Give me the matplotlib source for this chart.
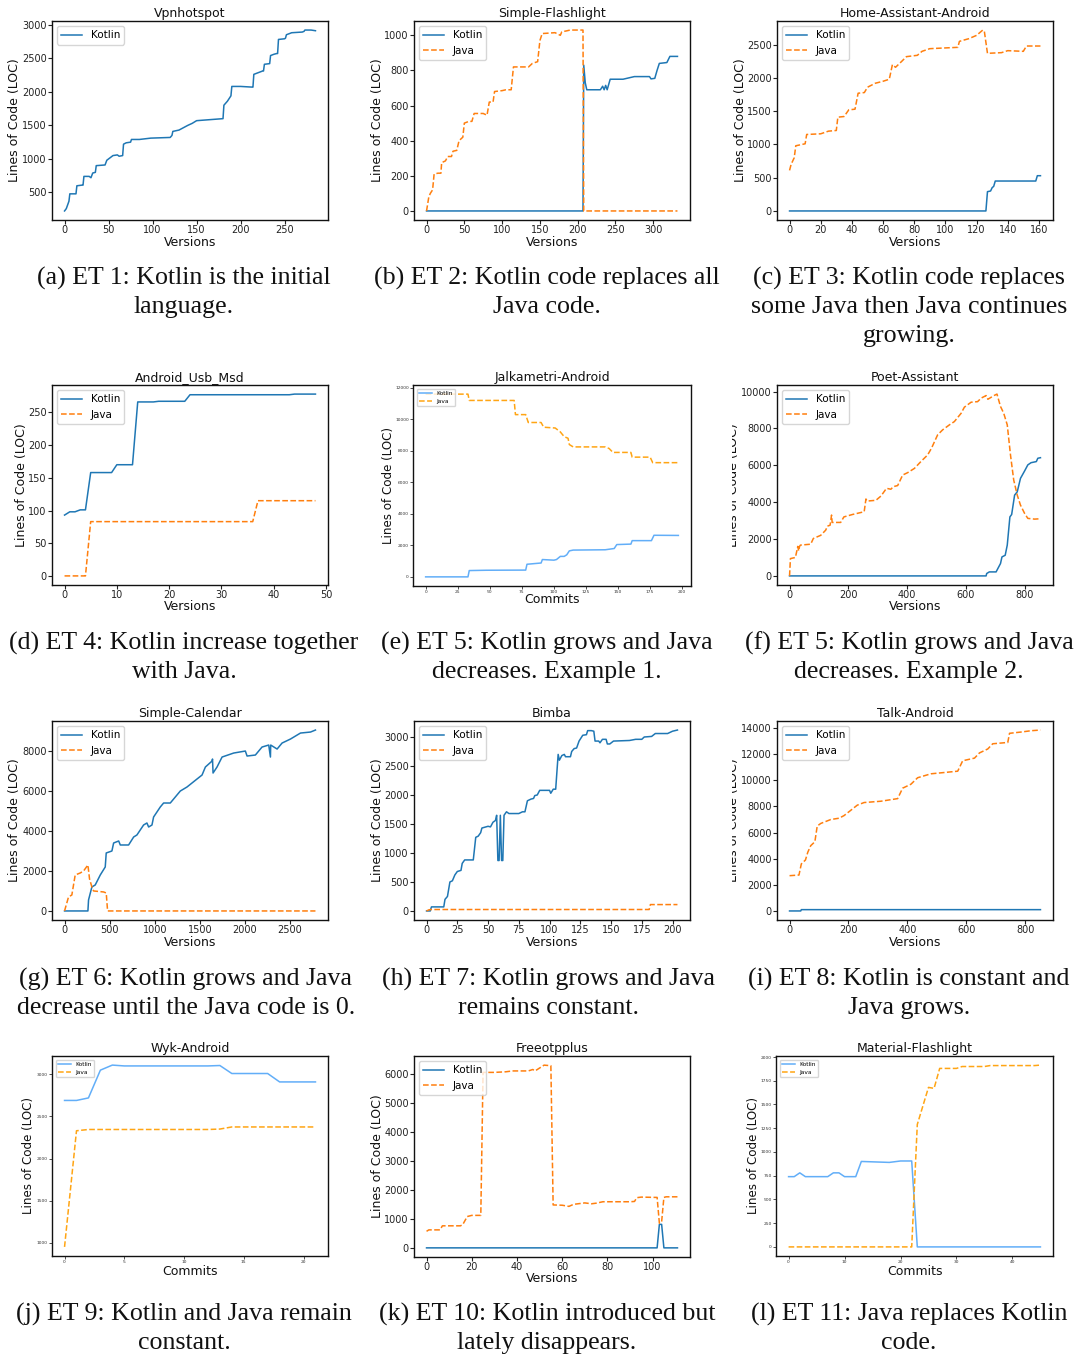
import matplotlib
matplotlib.use("Agg")
import matplotlib.pyplot as plt
from matplotlib.patches import Rectangle

# ---------------- data ----------------
# (a) Vpnhotspot
vpn_versions = [0, 2, 5, 6, 13, 14, 20, 21, 22, 28, 30, 32, 35, 36, 46, 48, 52, 55, 60, 62,
                66, 67, 70, 75, 76, 85, 98, 120, 122, 123, 130, 140, 145, 150, 160, 170, 180, 181, 185, 188,
                189, 190, 200, 213, 214, 215, 225, 226, 227, 233, 234, 238, 241, 242, 243, 250, 251, 252, 258, 270,
                272, 273, 280, 285]
vpn_kotlin = [225, 260, 370, 480, 480, 600, 610, 610, 740, 740, 720, 790, 800, 900, 910, 980, 1020, 1050, 1060, 1040,
              1050, 1220, 1240, 1250, 1290, 1290, 1310, 1320, 1350, 1410, 1430, 1500, 1530, 1570, 1580, 1590, 1600, 1800, 1860, 1920,
              1940, 2080, 2080, 2070, 2070, 2260, 2310, 2310, 2410, 2420, 2540, 2560, 2570, 2570, 2780, 2790, 2800, 2850, 2880, 2890,
              2900, 2920, 2920, 2910]

# (b) Simple-Flashlight
flash_kt_v = [0, 207, 208, 210, 212, 230, 233, 235, 237, 239, 243, 260, 275, 295, 297, 302, 305, 308, 318, 322, 332]
flash_kt = [0, 0, 830, 730, 690, 690, 710, 690, 715, 690, 750, 750, 765, 765, 752, 755, 800, 840, 845, 880, 880]
flash_java_v = [0, 3, 5, 8, 10, 15, 19, 20, 25, 28, 33, 35, 40, 43, 48, 50, 56, 60, 63, 75,
                80, 83, 88, 90, 100, 105, 112, 115, 135, 140, 147, 150, 153, 170, 177, 179, 185, 190, 207, 208, 332]
flash_java = [0, 80, 100, 120, 210, 215, 215, 275, 285, 310, 310, 340, 345, 400, 420, 500, 510, 510, 555, 555,
              545, 620, 620, 680, 685, 690, 690, 820, 820, 840, 850, 970, 1010, 1015, 1000, 1020, 1025, 1030, 1030, 0, 0]

# (c) Home-Assistant-Android
ha_java_v = [0, 1, 3, 4, 8, 10, 11, 20, 25, 30, 31, 35, 38, 42, 44, 48, 50, 55, 60, 64,
             66, 68, 72, 75, 82, 85, 90, 108, 109, 115, 120, 124, 125, 127, 136, 140, 150, 152, 161]
ha_java = [610, 700, 800, 980, 1000, 1010, 1150, 1160, 1200, 1210, 1410, 1420, 1520, 1530, 1770, 1780, 1860, 1920, 1950, 1980,
           2200, 2160, 2250, 2320, 2340, 2400, 2440, 2460, 2550, 2590, 2640, 2720, 2700, 2370, 2380, 2410, 2400, 2480, 2480]
ha_kt_v = [0, 126, 127, 129, 130, 131, 132, 158, 159, 161]
ha_kt = [0, 0, 290, 300, 350, 370, 450, 450, 530, 530]

# (d) Android_Usb_Msd
usb_kt_v = [0, 1, 2, 3, 4, 5, 9, 10, 13, 14, 17, 18, 23, 24, 43, 44, 48]
usb_kt = [93, 98, 98, 101, 101, 158, 158, 170, 170, 266, 266, 267, 267, 277, 277, 278, 278]
usb_java_v = [0, 4, 5, 36, 37, 48]
usb_java = [0, 0, 83, 83, 115, 115]

# (e) Jalkametri-Android
jalk_java_c = [0, 33, 34, 69, 70, 78, 80, 90, 92, 101, 105, 108, 111, 112, 115, 140, 143, 146, 160, 161, 175, 177, 197]
jalk_java = [11600, 11600, 11200, 11200, 10300, 10300, 9800, 9800, 9500, 9450, 9200, 8900, 8800, 8400, 8250, 8250,
             8150, 7900, 7900, 7600, 7600, 7250, 7250]
jalk_kt_c = [0, 33, 34, 47, 78, 79, 90, 91, 100, 102, 105, 108, 110, 112, 115, 140, 147, 149, 160, 161, 176, 178, 197]
jalk_kt = [0, 0, 400, 420, 430, 800, 880, 1100, 1060, 1100, 1300, 1300, 1400, 1650, 1700, 1720, 1800, 2050, 2080,
           2300, 2300, 2640, 2630]

# (f) Poet-Assistant
poet_java_v = [0, 3, 20, 28, 31, 34, 37, 72, 81, 106, 123, 129, 138, 143, 145, 151, 174, 185, 214, 254,
               260, 265, 294, 311, 330, 345, 353, 368, 385, 402, 425, 447, 470, 483, 504, 521, 544, 561, 584, 595,
               618, 640, 652, 669, 675, 697, 706, 718, 729, 741, 752, 763, 775, 786, 800, 811, 834, 854]
poet_java = [0, 940, 1000, 1600, 1350, 1600, 1670, 1720, 2030, 2200, 2480, 2700, 2750, 3300, 2900, 2900, 2900, 3200, 3330, 3480,
             4170, 4060, 4100, 4330, 4750, 4700, 4840, 4900, 5470, 5600, 5830, 6200, 6560, 6920, 7650, 7920, 8190, 8370, 8820, 9150,
             9420, 9450, 9640, 9780, 9580, 9790, 9860, 9190, 8820, 8190, 6560, 5200, 4380, 3840, 3390, 3120, 3080, 3100]
poet_kt_v = [0, 669, 671, 680, 703, 709, 718, 723, 734, 741, 750, 756, 766, 775, 786, 800, 811, 822, 840, 845, 854]
poet_kt = [0, 0, 130, 217, 217, 400, 670, 1030, 1120, 1670, 3200, 3330, 4380, 4560, 5290, 5690, 6020, 6140, 6200, 6380, 6410]

# (g) Simple-Calendar
cal_kt_v = [0, 259, 266, 303, 340, 396, 451, 462, 525, 544, 600, 618, 710, 766, 802, 876, 913, 932, 969, 987,
            1061, 1098, 1172, 1209, 1283, 1357, 1468, 1524, 1561, 1635, 1640, 1646, 1690, 1746, 1875, 2004, 2023, 2115, 2189, 2263,
            2282, 2285, 2356, 2411, 2504, 2615, 2726, 2781]
cal_kt = [0, 0, 550, 1200, 1300, 1800, 2200, 2900, 3000, 3400, 3500, 3300, 3300, 3700, 3800, 4300, 4400, 4200, 4300, 4700,
          5200, 5400, 5400, 5600, 6000, 6200, 6600, 6800, 7200, 7500, 7600, 6900, 7200, 7700, 7900, 8000, 7750, 7800, 8200, 8300,
          7700, 8300, 8100, 8400, 8600, 8900, 8950, 9050]
cal_java_v = [0, 44, 81, 118, 174, 211, 259, 277, 303, 322, 433, 462, 477, 2781]
cal_java = [0, 700, 800, 1800, 1900, 2000, 2300, 1600, 1200, 1000, 950, 900, 0, 0]

# (h) Bimba
bimba_kt_v = [0, 3, 4, 14, 15, 17, 19, 21, 23, 25, 28, 29, 31, 38, 40, 42, 44, 45, 50, 52,
              54, 56, 57, 58, 59, 60, 61, 62, 63, 65, 67, 75, 78, 80, 82, 85, 87, 88, 90, 92,
              100, 101, 103, 105, 107, 108, 110, 112, 113, 117, 118, 120, 122, 124, 127, 130, 131, 134, 136, 137,
              140, 141, 143, 146, 147, 149, 152, 165, 170, 175, 177, 183, 186, 196, 200, 204]
bimba_kt = [0, 0, 70, 70, 200, 250, 500, 520, 620, 680, 700, 820, 880, 880, 1270, 1290, 1350, 1430, 1460, 1450,
            1530, 1560, 1650, 870, 870, 1650, 870, 870, 1650, 1710, 1680, 1680, 1710, 1710, 1900, 1930, 1940, 1990, 2000, 2080,
            2080, 2030, 2100, 2100, 2700, 2600, 2680, 2700, 2660, 2660, 2750, 2800, 2810, 2930, 3030, 3040, 3110, 3110, 3100, 2930,
            2930, 2900, 2960, 2960, 2880, 2880, 2930, 2940, 2960, 2960, 3000, 3010, 3060, 3060, 3100, 3120]
bimba_java_v = [0, 2, 4, 181, 182, 204]
bimba_java = [0, 20, 25, 25, 110, 110]

# (i) Talk-Android
talk_java_v = [0, 32, 40, 54, 62, 72, 86, 94, 106, 140, 168, 185, 202, 230, 253, 310, 367, 384, 412, 435,
               480, 526, 571, 588, 628, 645, 673, 690, 741, 747, 787, 821, 852]
talk_java = [2700, 2750, 3600, 3900, 4500, 5000, 5300, 6500, 6700, 7000, 7100, 7300, 7600, 8100, 8300, 8400, 8600, 9400, 9700, 10200,
             10500, 10600, 10700, 11500, 11700, 12100, 12400, 12800, 12900, 13600, 13700, 13800, 13850]
talk_kt_v = [0, 38, 40, 852]
talk_kt = [0, 0, 100, 100]

# (j) Wyk-Android
wyk_commits = [0, 1, 2, 3, 4, 5, 6, 7, 8, 9, 10, 11, 12, 13, 14, 15, 16, 17, 18, 19, 20, 21]
wyk_kotlin = [2690, 2690, 2720, 3050, 3110, 3100, 3100, 3100, 3100, 3100, 3100, 3100, 3100, 3105, 3010, 3010,
              3010, 3010, 2910, 2910, 2910, 2910]
wyk_java = [950, 2330, 2345, 2345, 2345, 2345, 2345, 2345, 2345, 2345, 2345, 2345, 2345, 2350, 2375, 2375,
            2375, 2375, 2375, 2375, 2375, 2375]

# (k) Freeotpplus
otp_java_v = [0, 1, 6, 7, 15, 16, 18, 20, 24, 25, 30, 35, 38, 45, 47, 48, 50, 52, 55, 56,
              60, 63, 65, 70, 73, 75, 78, 90, 92, 93, 95, 101, 102, 103, 104, 105, 106, 111]
otp_java = [570, 620, 620, 760, 760, 800, 1080, 1120, 1120, 6050, 6050, 6070, 6100, 6100, 6150, 6100, 6200, 6300, 6280, 1480,
            1470, 1430, 1500, 1550, 1520, 1540, 1590, 1590, 1600, 1730, 1750, 1740, 1740, 850, 900, 1740, 1760, 1760]
otp_kt_v = [0, 102, 103, 104, 105, 111]
otp_kt = [0, 0, 810, 810, 0, 0]

# (l) Material-Flashlight
mat_kt_c = [0, 1, 2, 3, 7, 8, 9, 10, 12, 13, 18, 20, 22, 23, 45]
mat_kt = [740, 740, 780, 740, 740, 780, 780, 740, 740, 900, 890, 905, 905, 0, 0]
mat_java_c = [0, 22, 23, 25, 26, 27, 30, 31, 35, 36, 44, 45]
mat_java = [0, 0, 1290, 1680, 1670, 1880, 1880, 1900, 1900, 1910, 1910, 1915]

# tick lists
ticks_a = ([0, 50, 100, 150, 200, 250], [500, 1000, 1500, 2000, 2500, 3000])
ticks_b = ([0, 50, 100, 150, 200, 250, 300], [0, 200, 400, 600, 800, 1000])
ticks_c = ([0, 20, 40, 60, 80, 100, 120, 140, 160], [0, 500, 1000, 1500, 2000, 2500])
ticks_d = ([0, 10, 20, 30, 40, 50], [0, 50, 100, 150, 200, 250])
ticks_e = ([0, 25, 50, 75, 100, 125, 150, 175, 200], [0, 2000, 4000, 6000, 8000, 10000, 12000])
ticks_f = ([0, 200, 400, 600, 800], [0, 2000, 4000, 6000, 8000, 10000])
ticks_g = ([0, 500, 1000, 1500, 2000, 2500], [0, 2000, 4000, 6000, 8000])
ticks_h = ([0, 25, 50, 75, 100, 125, 150, 175, 200], [0, 500, 1000, 1500, 2000, 2500, 3000])
ticks_i = ([0, 200, 400, 600, 800], [0, 2000, 4000, 6000, 8000, 10000, 12000, 14000])
ticks_j = ([0, 5, 10, 15, 20], [1000, 1500, 2000, 2500, 3000])
ticks_k = ([0, 20, 40, 60, 80, 100], [0, 1000, 2000, 3000, 4000, 5000, 6000])
ticks_l = ([0, 10, 20, 30, 40], [0, 250, 500, 750, 1000, 1250, 1500, 1750, 2000])

captions = {
    "a": ["(a) ET 1: Kotlin is the initial", "language."],
    "b": ["(b) ET 2: Kotlin code replaces all", "Java code."],
    "c": ["(c) ET 3: Kotlin code replaces", "some Java then Java continues", "growing."],
    "d": ["(d) ET 4: Kotlin increase together", "with Java."],
    "e": ["(e) ET 5: Kotlin grows and Java", "decreases. Example 1."],
    "f": ["(f) ET 5: Kotlin grows and Java", "decreases. Example 2."],
    "g": ["(g) ET 6: Kotlin grows and Java", "decrease until the Java code is 0."],
    "h": ["(h) ET 7: Kotlin grows and Java", "remains constant."],
    "i": ["(i) ET 8: Kotlin is constant and", "Java grows."],
    "j": ["(j) ET 9: Kotlin and Java remain", "constant."],
    "k": ["(k) ET 10: Kotlin introduced but", "lately disappears."],
    "l": ["(l) ET 11: Java replaces Kotlin", "code."],
}

# ---------------- figure ----------------
W, H = 1075, 1358
fig = plt.figure(figsize=(W / 100, H / 100), dpi=100)
fig.patch.set_facecolor("white")

KT, JV = "#1f77b4", "#ff7f0e"
KT_L, JV_L = "#62aef8", "#ffa514"


def make_axes(box):
    l, t, r, b = box
    return fig.add_axes([l / W, 1 - b / H, (r - l) / W, (b - t) / H])


def finish(ax, box, title, xlabel, ticks, ylab_right, xlab_top, small=False, mask_x=None):
    l, t, r, b = box
    ax.set_xticks(ticks[0])
    ax.set_yticks(ticks[1])
    if small:
        ax.tick_params(labelsize=3.2, length=2, width=0.6, pad=1, colors="#333333")
    else:
        ax.tick_params(labelsize=7, length=2.6, width=0.8, pad=1.2, colors="#222222")
    for s in ax.spines.values():
        s.set_linewidth(1.0)
        s.set_color("#111111")
    ax.set_title(title, fontsize=9, pad=3, color="#111111")
    ax.set_xlabel(xlabel, fontsize=9, color="#111111")
    ax.set_ylabel("Lines of Code (LOC)", fontsize=8.6 if small else 9, color="#111111")
    ax.xaxis.set_label_coords(0.5, (b - xlab_top) / (b - t))
    ax.yaxis.set_label_coords((ylab_right - l) / (r - l), 0.5)
    if mask_x is not None:
        # the reference crops the left part of this y label
        fig.add_artist(Rectangle((mask_x[0] / W, 1 - b / H), (mask_x[1] - mask_x[0]) / W, (b - t) / H,
                                 transform=fig.transFigure, facecolor="white", edgecolor="none", zorder=10))
    if small:
        ax.legend(loc="upper left", fontsize=4.2, handlelength=2.2, borderaxespad=0.6)
    else:
        ax.legend(loc="upper left", fontsize=7.5, handlelength=2.0)


# boxes: left, top, right, bottom (pixels)
BOX = {
    "a": (52, 21, 328, 220), "b": (414, 21, 690, 220), "c": (777, 21, 1053, 220),
    "d": (52, 385, 328, 585), "e": (413, 385, 691, 586), "f": (777, 385, 1053, 585),
    "g": (52, 721, 328, 920), "h": (414, 721, 690, 920), "i": (777, 721, 1053, 920),
    "j": (52, 1056, 328, 1256), "k": (414, 1056, 690, 1257), "l": (776, 1056, 1053, 1256),
}

std = dict(lw=1.1)

# (a)
ax = make_axes(BOX["a"])
ax.plot(vpn_versions, vpn_kotlin, color=KT, label="Kotlin", **std)
finish(ax, BOX["a"], "Vpnhotspot", "Versions", ticks_a, 21, 236)

# (b)
ax = make_axes(BOX["b"])
ax.plot(flash_kt_v, flash_kt, color=KT, label="Kotlin", **std)
ax.plot(flash_java_v, flash_java, color=JV, ls="--", label="Java", **std)
finish(ax, BOX["b"], "Simple-Flashlight", "Versions", ticks_b, 384, 236)

# (c)
ax = make_axes(BOX["c"])
ax.plot(ha_kt_v, ha_kt, color=KT, label="Kotlin", **std)
ax.plot(ha_java_v, ha_java, color=JV, ls="--", label="Java", **std)
finish(ax, BOX["c"], "Home-Assistant-Android", "Versions", ticks_c, 747, 236)

# (d)
ax = make_axes(BOX["d"])
ax.plot(usb_kt_v, usb_kt, color=KT, label="Kotlin", **std)
ax.plot(usb_java_v, usb_java, color=JV, ls="--", label="Java", **std)
finish(ax, BOX["d"], "Android_Usb_Msd", "Versions", ticks_d, 28, 600)

# (e)
ax = make_axes(BOX["e"])
ax.plot(jalk_kt_c, jalk_kt, color=KT_L, label="Kotlin", lw=1.1)
ax.plot(jalk_java_c, jalk_java, color=JV_L, ls="--", label="Java", lw=1.1)
finish(ax, BOX["e"], "Jalkametri-Android", "Commits", ticks_e, 395, 593, small=True)

# (f)
ax = make_axes(BOX["f"])
ax.plot(poet_kt_v, poet_kt, color=KT, label="Kotlin", **std)
ax.plot(poet_java_v, poet_java, color=JV, ls="--", label="Java", **std)
finish(ax, BOX["f"], "Poet-Assistant", "Versions", ticks_f, 740, 600, mask_x=(720, 732))

# (g)
ax = make_axes(BOX["g"])
ax.plot(cal_kt_v, cal_kt, color=KT, label="Kotlin", **std)
ax.plot(cal_java_v, cal_java, color=JV, ls="--", label="Java", **std)
finish(ax, BOX["g"], "Simple-Calendar", "Versions", ticks_g, 21, 936)

# (h)
ax = make_axes(BOX["h"])
ax.plot(bimba_kt_v, bimba_kt, color=KT, label="Kotlin", **std)
ax.plot(bimba_java_v, bimba_java, color=JV, ls="--", label="Java", **std)
finish(ax, BOX["h"], "Bimba", "Versions", ticks_h, 384, 936)

# (i)
ax = make_axes(BOX["i"])
ax.plot(talk_kt_v, talk_kt, color=KT, label="Kotlin", **std)
ax.plot(talk_java_v, talk_java, color=JV, ls="--", label="Java", **std)
finish(ax, BOX["i"], "Talk-Android", "Versions", ticks_i, 740, 936, mask_x=(720, 732))

# (j)
ax = make_axes(BOX["j"])
ax.plot(wyk_commits, wyk_kotlin, color=KT_L, label="Kotlin", lw=1.1)
ax.plot(wyk_commits, wyk_java, color=JV_L, ls="--", label="Java", lw=1.1)
finish(ax, BOX["j"], "Wyk-Android", "Commits", ticks_j, 35, 1265, small=True)

# (k)
ax = make_axes(BOX["k"])
ax.plot(otp_kt_v, otp_kt, color=KT, label="Kotlin", **std)
ax.plot(otp_java_v, otp_java, color=JV, ls="--", label="Java", **std)
finish(ax, BOX["k"], "Freeotpplus", "Versions", ticks_k, 384, 1272)

# (l)
ax = make_axes(BOX["l"])
ax.plot(mat_kt_c, mat_kt, color=KT_L, label="Kotlin", lw=1.1)
ax.plot(mat_java_c, mat_java, color=JV_L, ls="--", label="Java", lw=1.1)
finish(ax, BOX["l"], "Material-Flashlight", "Commits", ticks_l, 760, 1265, small=True)

# captions
col_x = {"a": 184, "b": 547, "c": 909, "d": 184, "e": 547, "f": 909,
         "g": 186, "h": 548, "i": 909, "j": 184, "k": 547, "l": 909}
row_y = {"a": 278, "b": 278, "c": 278, "d": 643, "e": 643, "f": 643,
         "g": 979, "h": 979, "i": 979, "j": 1314, "k": 1314, "l": 1314}
for key, lines in captions.items():
    for n, line in enumerate(lines):
        fig.text(col_x[key] / W, 1 - (row_y[key] + 29 * n) / H, line,
                 ha="center", va="center", fontsize=18.6, family="Liberation Serif", color="#111111")

fig.savefig("out.png", dpi=100, facecolor="white")
